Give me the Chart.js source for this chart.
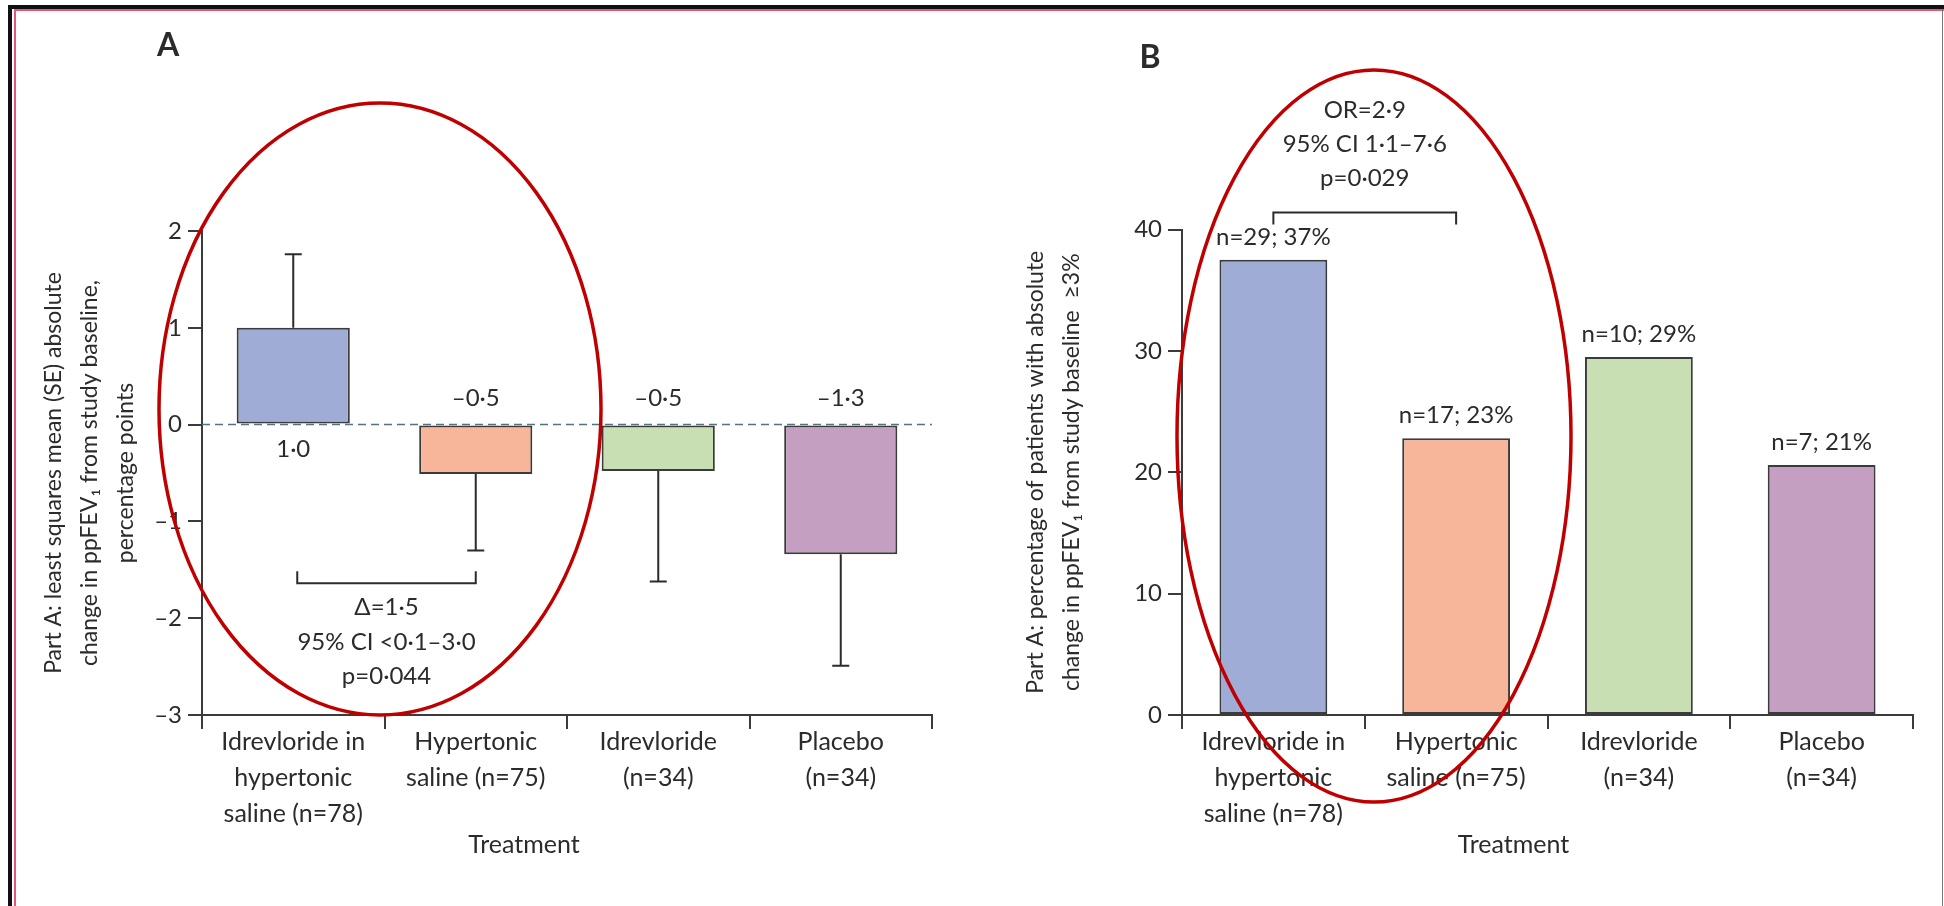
<!DOCTYPE html>
<html>
<head>
<meta charset="utf-8">
<script src="https://cdn.jsdelivr.net/npm/chart.js@4.4.1/dist/chart.umd.min.js"></script>
<style>
  body { margin: 0; background: #fff; }
  #page { position: relative; width: 1944px; height: 906px; overflow: hidden; background: #fff; }
  .frame-outer { position: absolute; left: 8px; top: 5px; right: -10px; bottom: -10px; border-top: 4px solid #111; border-left: 4px solid #111; }
  .frame-inner { position: absolute; left: 14px; top: 9px; right: -10px; bottom: -10px; border-top: 2px solid #e0587a; border-left: 2px solid #e0587a; }
  .frame-right { position: absolute; left: 1942px; top: 9px; bottom: 0; width: 1px; background: #777; }
  canvas { position: absolute; top: 0; }
  #chart-a { left: 0; }
  #chart-b { left: 972px; }
</style>
</head>
<body>
<div id="page">
  <div class="frame-outer"></div>
  <div class="frame-inner"></div>
  <div class="frame-right"></div>
  <canvas id="chart-a" width="972" height="906"></canvas>
  <canvas id="chart-b" width="972" height="906"></canvas>
</div>
<script>
const categories = [
  ['Idrevloride in', 'hypertonic', 'saline (n=78)'],
  ['Hypertonic', 'saline (n=75)'],
  ['Idrevloride', '(n=34)'],
  ['Placebo', '(n=34)']
]

// panel A: least squares mean change (SE)
const meanChange = [1.0, -0.51, -0.48, -1.34]
const meanSE = [0.76, 0.79, 1.14, 1.15]
const meanLabels = ['1·0', '–0·5', '–0·5', '–1·3']
const ticksA = [2, 1, 0, -1, -2, -3]

// panel B: responders (%)
const responderPct = [37.5, 22.8, 29.5, 20.6]
const responderLabels = ['n=29; 37%', 'n=17; 23%', 'n=10; 29%', 'n=7; 21%']
const ticksB = [0, 10, 20, 30, 40]

const compareA = ['Δ=1·5', '95% CI <0·1–3·0', 'p=0·044']
const compareB = ['OR=2·9', '95% CI 1·1–7·6', 'p=0·029']

const barColors = ['#9fadd6', '#f7b59a', '#c8dfb3', '#c49fc2']
const INK = '#2b2b2b'
const FONT = 'Lato, "Open Sans", sans-serif'

Chart.defaults.font.family = FONT
Chart.defaults.color = INK

const dash = v => v < 0 ? '–' + Math.abs(v) : String(v)

function drawEllipse(ctx, cx, cy, rx, ry) {
  ctx.save()
  ctx.strokeStyle = '#c00000'
  ctx.lineWidth = 3.5
  ctx.beginPath()
  ctx.ellipse(cx, cy, rx, ry, 0, 0, Math.PI * 2)
  ctx.stroke()
  ctx.restore()
}

function drawText(ctx, text, x, y, font) {
  ctx.save()
  ctx.fillStyle = INK
  ctx.font = font || '24px ' + FONT
  ctx.textAlign = 'center'
  ctx.textBaseline = 'middle'
  ctx.fillText(text, x, y)
  ctx.restore()
}

function baseOptions(cfg) {
  return {
    responsive: false,
    animation: false,
    events: [],
    layout: {padding: {left: 0, top: cfg.top, right: cfg.right, bottom: 0}},
    plugins: {legend: {display: false}, tooltip: {enabled: false}},
    scales: {
      x: {
        grid: {drawOnChartArea: false, color: '#3b3b3b', lineWidth: 2, tickLength: 14},
        border: {color: '#3b3b3b', width: 2},
        ticks: {font: {size: 25, lineHeight: 1.44}, color: INK, padding: -5, maxRotation: 0, autoSkip: false},
        afterFit: s => { s.height = 906 - 715 }
      },
      y: {
        min: cfg.min,
        max: cfg.max,
        afterBuildTicks: s => { s.ticks = cfg.ticks.map(v => ({value: v})) },
        grid: {drawOnChartArea: false, color: '#3b3b3b', lineWidth: 2, tickLength: 14},
        border: {color: '#3b3b3b', width: 2},
        ticks: {font: {size: 24}, color: INK, padding: 6, callback: v => dash(v)},
        title: {
          display: true,
          text: cfg.title,
          font: {size: 23, lineHeight: 1.58},
          color: INK,
          padding: {top: cfg.titlePad, bottom: 0}
        },
        afterFit: s => { s.width = cfg.axisX }
      }
    }
  }
}

// ---- panel A ----
const optsA = baseOptions({
  top: 231, right: 40, min: -3, max: 2, ticks: ticksA, axisX: 202, titlePad: 35,
  title: ['Part A: least squares mean (SE) absolute', 'change in ppFEV₁ from study baseline,', 'percentage points']
})
optsA.datasets = {bar: {barPercentage: 0.62, categoryPercentage: 1}}

const annotateA = {
  id: 'annotateA',
  afterDatasetsDraw(chart) {
    const {ctx, chartArea, scales: {y}} = chart
    const bars = chart.getDatasetMeta(0).data
    const y0 = y.getPixelForValue(0)
    ctx.save()
    ctx.strokeStyle = '#56717f'
    ctx.lineWidth = 1.5
    ctx.setLineDash([8, 5])
    ctx.beginPath()
    ctx.moveTo(chartArea.left, y0)
    ctx.lineTo(chartArea.right, y0)
    ctx.stroke()
    ctx.setLineDash([])
    ctx.strokeStyle = INK
    ctx.lineWidth = 2
    bars.forEach((bar, i) => {
      const v = meanChange[i]
      const yEnd = y.getPixelForValue(v >= 0 ? v + meanSE[i] : v - meanSE[i])
      ctx.beginPath()
      ctx.moveTo(bar.x, bar.y)
      ctx.lineTo(bar.x, yEnd)
      ctx.moveTo(bar.x - 8.5, yEnd)
      ctx.lineTo(bar.x + 8.5, yEnd)
      ctx.stroke()
    })
    // comparison bracket
    const by = y.getPixelForValue(-1.64)
    const x1 = bars[0].x + 4, x2 = bars[1].x
    ctx.beginPath()
    ctx.moveTo(x1, by - 12); ctx.lineTo(x1, by); ctx.lineTo(x2, by); ctx.lineTo(x2, by - 12)
    ctx.stroke()
    ctx.restore()
    bars.forEach((bar, i) => {
      drawText(ctx, meanLabels[i], bar.x, meanChange[i] >= 0 ? y0 + 25 : y0 - 26)
    })
    const cx = (x1 + x2) / 2
    compareA.forEach((t, i) => drawText(ctx, t, cx, by + 24 + i * 34.5))
    drawText(ctx, 'Treatment', (chartArea.left + chartArea.right) / 2 - 43, 845, '25px ' + FONT)
    drawText(ctx, 'A', 168, 46, 'bold 32px ' + FONT)
  },
  afterDraw(chart) {
    drawEllipse(chart.ctx, 380, 409, 221, 306)
  }
}

new Chart(document.getElementById('chart-a'), {
  type: 'bar',
  data: {
    labels: categories,
    datasets: [{
      data: meanChange,
      backgroundColor: barColors,
      borderColor: '#3b3b3b',
      borderWidth: 2,
      borderSkipped: false
    }]
  },
  options: optsA,
  plugins: [annotateA]
})

// ---- panel B ----
const optsB = baseOptions({
  top: 229.5, right: 31, min: 0, max: 40, ticks: ticksB, axisX: 210, titlePad: 45,
  title: ['Part A: percentage of patients with absolute', 'change in ppFEV₁ from study baseline  ≥3%']
})
optsB.datasets = {bar: {barPercentage: 0.59, categoryPercentage: 1}}

const annotateB = {
  id: 'annotateB',
  afterDatasetsDraw(chart) {
    const {ctx, chartArea, scales: {y}} = chart
    const bars = chart.getDatasetMeta(0).data
    bars.forEach((bar, i) => drawText(ctx, responderLabels[i], bar.x, bar.y - 23))
    const by = y.getPixelForValue(41.4)
    const x1 = bars[0].x, x2 = bars[1].x
    ctx.save()
    ctx.strokeStyle = INK
    ctx.lineWidth = 2
    ctx.beginPath()
    ctx.moveTo(x1, by + 12); ctx.lineTo(x1, by); ctx.lineTo(x2, by); ctx.lineTo(x2, by + 12)
    ctx.stroke()
    ctx.restore()
    const cx = (x1 + x2) / 2
    compareB.forEach((t, i) => drawText(ctx, t, cx, by - 102 + i * 33.8))
    drawText(ctx, 'Treatment', (chartArea.left + chartArea.right) / 2 - 34, 845, '25px ' + FONT)
    drawText(ctx, 'B', 178, 58, 'bold 32px ' + FONT)
  },
  afterDraw(chart) {
    drawEllipse(chart.ctx, 402, 436, 197, 366)
  }
}

new Chart(document.getElementById('chart-b'), {
  type: 'bar',
  data: {
    labels: categories,
    datasets: [{
      data: responderPct,
      backgroundColor: barColors,
      borderColor: '#3b3b3b',
      borderWidth: 2,
      borderSkipped: false
    }]
  },
  options: optsB,
  plugins: [annotateB]
})
</script>
</body>
</html>
